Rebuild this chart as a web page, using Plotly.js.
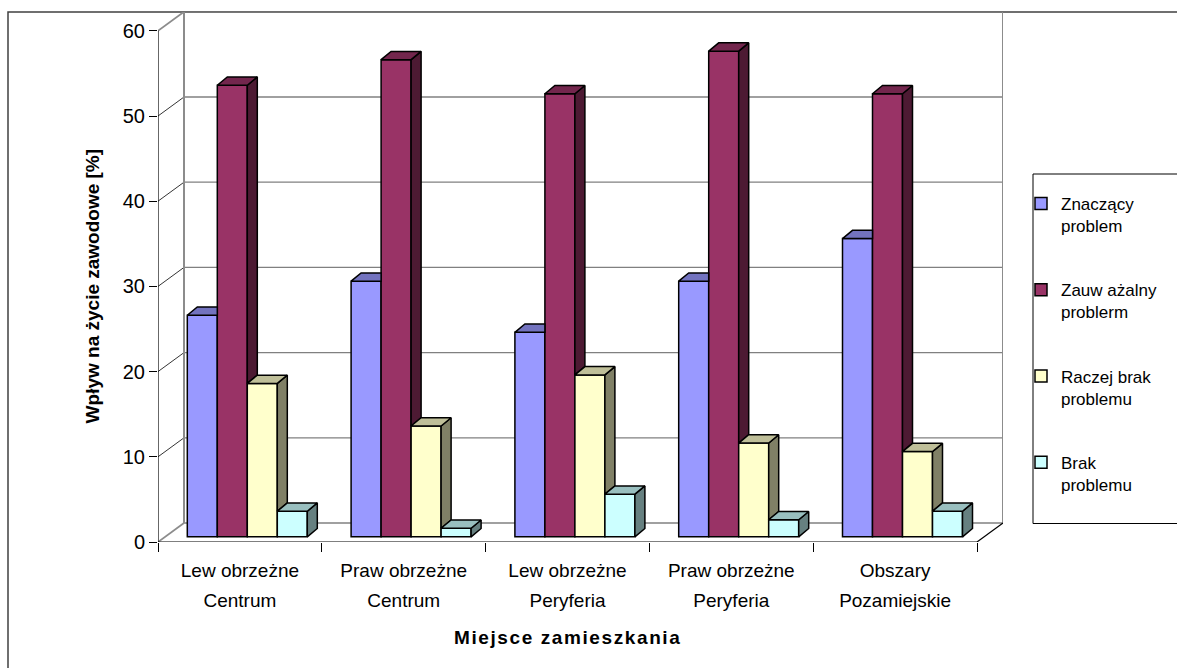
<!DOCTYPE html>
<html>
<head>
<meta charset="utf-8">
<script src="https://cdn.plot.ly/plotly-3.0.1.min.js"></script>
<style>
  html, body { margin: 0; padding: 0; background: #ffffff; }
  #chart { width: 1177px; height: 668px; }
</style>
</head>
<body>
<div id="chart"></div>
<script>
// ---- data ----
const labelLine1 = ['Lew obrzeżne', 'Praw obrzeżne', 'Lew obrzeżne', 'Praw obrzeżne', 'Obszary'];
const labelLine2 = ['Centrum', 'Centrum', 'Peryferia', 'Peryferia', 'Pozamiejskie'];
const seriesNames = ['Znaczący<br>problem', 'Zauw ażalny<br>problerm', 'Raczej brak<br>problemu', 'Brak<br>problemu'];
const znaczacy   = [26, 30, 24, 30, 35];
const zauwazalny = [53, 56, 52, 57, 52];
const raczejBrak = [18, 13, 19, 11, 10];
const brak       = [3, 1, 5, 2, 3];
const yTicks = [0, 10, 20, 30, 40, 50, 60];
const xTitle = 'Miejsce zamieszkania';
const yTitle = 'Wpływ na życie zawodowe [%]';

// ---- styling: front / side / top colours of each series ----
const palette = [
  { front: '#9999FF', side: '#4D4D80', top: '#7373BF' },
  { front: '#993366', side: '#4D1A33', top: '#73264D' },
  { front: '#FFFFCC', side: '#808066', top: '#BFBF99' },
  { front: '#CCFFFF', side: '#668080', top: '#99BFBF' }
];
const seriesValues = [znaczacy, zauwazalny, raczejBrak, brak];

// ---- pseudo-3D geometry, in axis units (one category = 1 on x) ----
const PX_X = 163.8, PX_Y = 8.52;         // pixels per x unit / per y unit
const WALL_DX = 26 / PX_X, WALL_DY = 19 / PX_Y;   // depth of the walls
const BAR_W = 30 / PX_X;                  // bar width
const BAR_START = 29.3 / PX_X;            // first bar offset inside a category
const BAR_BASE = 5.2 / PX_Y;              // bars stand slightly back on the floor
const DEPTH_DX = 10 / PX_X, DEPTH_DY = 8.3 / PX_Y; // bar depth
const NCAT = labelLine1.length;
const X_MAX = NCAT + WALL_DX;
const PLOT_T = 12, PLOT_B = 126, PLOT_L = 158, PLOT_R = 174;
const PLOT_H = 668 - PLOT_T - PLOT_B, PLOT_W = 1177 - PLOT_L - PLOT_R;
const Y_MAX = PLOT_H / PX_Y;
const FONT = 'Liberation Sans, Arial, sans-serif';
const yTop = yTicks[yTicks.length - 1];

const traces = [];

// front faces of the bars
seriesValues.forEach((vals, j) => {
  traces.push({
    type: 'bar',
    name: seriesNames[j],
    legendgroup: 'g' + j,
    x: vals.map((v, i) => i + BAR_START + BAR_W * (j + 0.5)),
    y: vals,
    base: BAR_BASE,
    width: BAR_W,
    marker: { color: palette[j].front, line: { color: '#000000', width: 1.5 } },
    hoverinfo: 'skip'
  });
});

// side and top faces, trimmed where the neighbouring bar hides them
const sideTraces = [], topTraces = [];
seriesValues.forEach((vals, j) => {
  const next = seriesValues[j + 1];
  const sx = [], sy = [], tx = [], ty = [];
  vals.forEach((v, i) => {
    const L = i + BAR_START + BAR_W * j, R = L + BAR_W;
    const t = BAR_BASE + v;
    const tn = next ? BAR_BASE + next[i] : -Infinity;
    if (tn < t) {
      const b = Math.max(BAR_BASE, tn);
      sx.push(R, R + DEPTH_DX, R + DEPTH_DX, R, R, null);
      sy.push(b, b + DEPTH_DY, t + DEPTH_DY, t, b, null);
      tx.push(L, R, R + DEPTH_DX, L + DEPTH_DX, L, null);
      ty.push(t, t, t + DEPTH_DY, t + DEPTH_DY, t, null);
    } else {
      tx.push(L, R, R, L + DEPTH_DX, L, null);
      ty.push(t, t, t + DEPTH_DY, t + DEPTH_DY, t, null);
    }
  });
  const common = {
    type: 'scatter', mode: 'lines', fill: 'toself', showlegend: false,
    hoverinfo: 'skip', line: { color: '#000000', width: 1.5 }
  };
  if (sx.length) sideTraces.push(Object.assign({}, common, { x: sx, y: sy, fillcolor: palette[j].side, legendgroup: 'g' + j }));
  topTraces.push(Object.assign({}, common, { x: tx, y: ty, fillcolor: palette[j].top, legendgroup: 'g' + j }));
});
traces.push(...sideTraces, ...topTraces);

// empty traces that carry the two rows of category labels
traces.push({ type: 'scatter', x: [], y: [], xaxis: 'x2', showlegend: false, hoverinfo: 'skip' });
traces.push({ type: 'scatter', x: [], y: [], xaxis: 'x3', showlegend: false, hoverinfo: 'skip' });

// ---- walls, grid and frame ----
const shapes = [];
const seg = (x0, y0, x1, y1, color, width) => shapes.push({
  type: 'line', xref: 'x', yref: 'y', x0, y0, x1, y1, layer: 'below',
  line: { color, width }
});
// back wall grid
yTicks.forEach(v => seg(WALL_DX, v + WALL_DY, NCAT + WALL_DX, v + WALL_DY, '#808080', 1.3));
// side wall grid
yTicks.forEach((v, k) => {
  const edge = (k === 0 || k === yTicks.length - 1);
  seg(0, v, WALL_DX, v + WALL_DY, edge ? '#8c8c8c' : '#000000', edge ? 1.8 : 0.8);
});
// wall edges
seg(WALL_DX, WALL_DY, WALL_DX, yTop + WALL_DY, '#8c8c8c', 2);
seg(NCAT + WALL_DX, WALL_DY, NCAT + WALL_DX, yTop + WALL_DY, '#8c8c8c', 2);
// front axis and floor edges
seg(0, 0, 0, yTop, '#000000', 1.2);
seg(0, 0, NCAT, 0, '#000000', 1.2);
seg(NCAT, 0, NCAT + WALL_DX, WALL_DY, '#000000', 1.2);
// chart frame
shapes.push({
  type: 'rect', xref: 'paper', yref: 'paper', layer: 'below',
  x0: (8 - PLOT_L) / PLOT_W, x1: 1.5, y0: -0.5, y1: 1,
  line: { color: '#404040', width: 1.5 }
});
// legend frame
shapes.push({
  type: 'rect', xref: 'paper', yref: 'paper', layer: 'below',
  x0: (1033 - PLOT_L) / PLOT_W, x1: 1.5,
  y0: (668 - PLOT_B - 523.5) / PLOT_H, y1: (668 - PLOT_B - 174) / PLOT_H,
  line: { color: '#000000', width: 1 }
});

const centers = labelLine1.map((_, i) => i + 0.5);
const labelAxis = (text, standoff) => ({
  overlaying: 'x', anchor: 'y', side: 'bottom', range: [0, X_MAX],
  tickmode: 'array', tickvals: centers, ticktext: text, ticks: '',
  ticklabelstandoff: standoff,
  showgrid: false, zeroline: false, showline: false, fixedrange: true,
  tickfont: { family: FONT, size: 19, color: '#000000' }
});

const layout = {
  width: 1177, height: 668,
  margin: { l: PLOT_L, r: PLOT_R, t: PLOT_T, b: PLOT_B, autoexpand: false },
  paper_bgcolor: '#ffffff', plot_bgcolor: 'rgba(0,0,0,0)',
  barmode: 'overlay',
  font: { family: FONT, color: '#000000' },
  xaxis: {
    range: [0, X_MAX], tickmode: 'array', tickvals: [0, 1, 2, 3, 4, 5],
    ticks: 'outside', ticklen: 9, tickwidth: 1, tickcolor: '#000000',
    showticklabels: false, showgrid: false, zeroline: false, showline: false, fixedrange: true
  },
  xaxis2: labelAxis(labelLine1, 15),
  xaxis3: labelAxis(labelLine2, 45),
  yaxis: {
    range: [0, Y_MAX], tickmode: 'array', tickvals: yTicks,
    ticks: 'outside', ticklen: 8, tickwidth: 1, tickcolor: '#000000',
    tickfont: { family: FONT, size: 20, color: '#000000' },
    showgrid: false, zeroline: false, showline: false, fixedrange: true
  },
  showlegend: true,
  legend: {
    x: (1021 - PLOT_L) / PLOT_W, xanchor: 'left',
    y: (668 - PLOT_B - 186) / PLOT_H, yanchor: 'top',
    bgcolor: 'rgba(0,0,0,0)', borderwidth: 0, valign: 'top',
    font: { family: FONT, size: 17, color: '#000000' },
    tracegroupgap: 39, traceorder: 'grouped'
  },
  annotations: [
    {
      xref: 'x', yref: 'paper', x: NCAT / 2, y: (668 - PLOT_B - 637) / PLOT_H,
      text: '<b><span style="letter-spacing:1.6px">' + xTitle + '</span></b>', showarrow: false,
      font: { family: FONT, size: 19, color: '#000000' }, xanchor: 'center', yanchor: 'middle'
    },
    {
      xref: 'paper', yref: 'y', x: (92 - PLOT_L) / PLOT_W, y: yTop / 2,
      text: '<b>' + yTitle + '</b>', showarrow: false, textangle: -90,
      font: { family: FONT, size: 19, color: '#000000' }, xanchor: 'center', yanchor: 'middle'
    }
  ],
  shapes: shapes
};

Plotly.newPlot('chart', traces, layout, { displayModeBar: false, staticPlot: true });
</script>
</body>
</html>
